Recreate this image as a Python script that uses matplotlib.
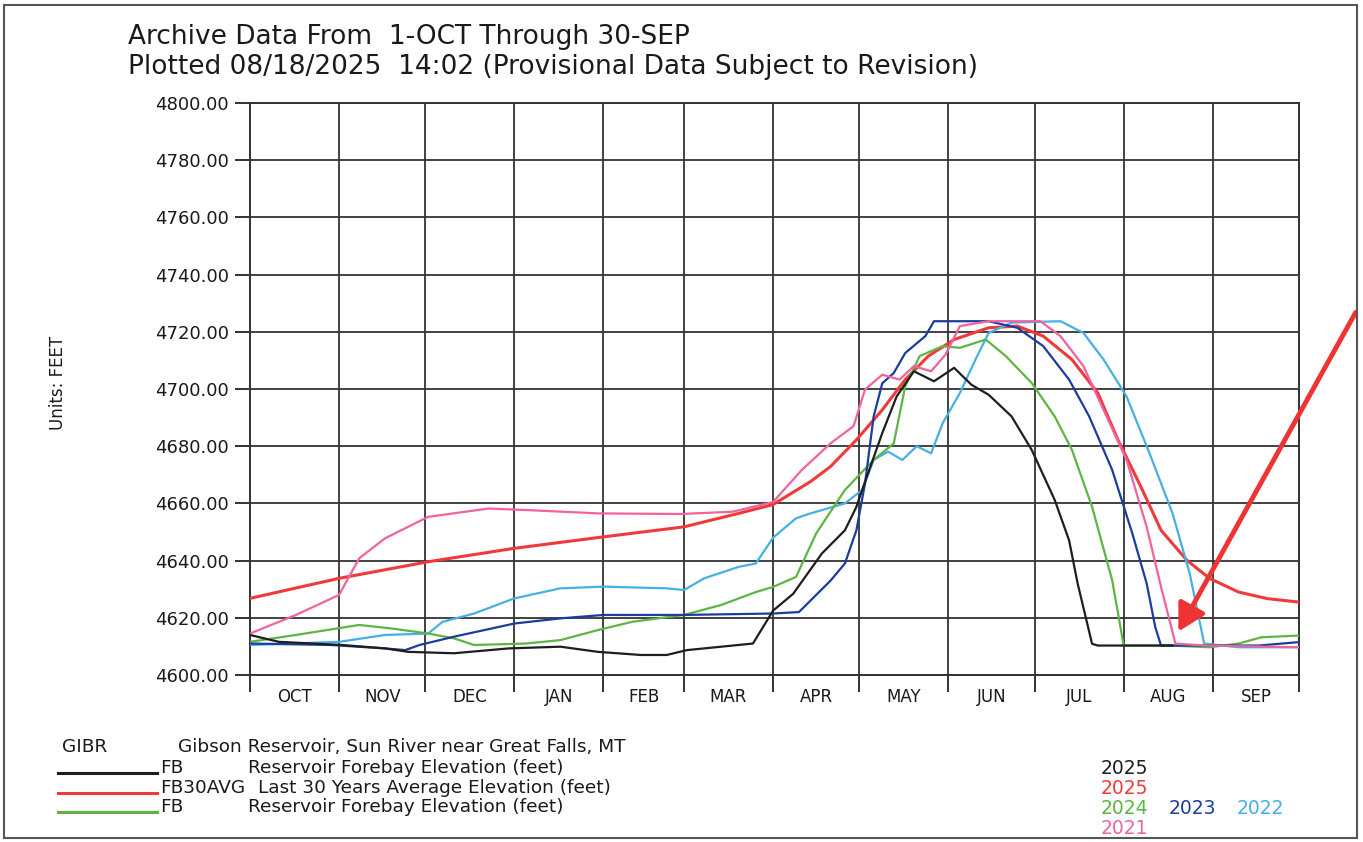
import matplotlib
matplotlib.use("Agg")
import matplotlib.pyplot as plt
from matplotlib.patches import Rectangle, FancyArrowPatch
import numpy as np

# ---- data: day of water year (0 = 1-Oct) and elevation (feet) ----
month_labels = ["OCT", "NOV", "DEC", "JAN", "FEB", "MAR", "APR", "MAY", "JUN", "JUL", "AUG", "SEP"]
month_starts = [0, 31, 61, 92, 123, 151, 182, 212, 243, 273, 304, 335, 365]
y_ticks = [4600, 4620, 4640, 4660, 4680, 4700, 4720, 4740, 4760, 4780, 4800]

black_2025_day = [0, 10, 32, 47, 55, 71, 90, 108, 121, 136, 145, 152, 175, 182, 189, 199, 207, 211,
                  213, 220, 225, 231, 238, 245, 251, 257, 265, 272, 280, 285, 288, 293, 295, 308, 321]
black_2025_val = [4614.0, 4611.6, 4610.5, 4609.3, 4608.1, 4607.6, 4609.3, 4609.9, 4608.1, 4607.0, 4607.0,
                  4608.7, 4611.0, 4622.5, 4628.4, 4642.5, 4650.6, 4658.8, 4664.7, 4684.6, 4697.4, 4706.2,
                  4702.7, 4707.4, 4701.5, 4698.0, 4690.4, 4678.7, 4661.2, 4647.1, 4631.9, 4610.9, 4610.3,
                  4610.3, 4610.3]

avg30_day = [0, 31, 62, 92, 123, 151, 170, 182, 195, 202, 211, 220, 228, 236, 245, 257, 267, 276, 286,
             295, 302, 310, 317, 326, 334, 344, 354, 365]
avg30_val = [4626.8, 4633.8, 4639.6, 4644.3, 4648.3, 4651.8, 4656.5, 4659.6, 4667.6, 4672.9, 4682.2,
             4692.7, 4703.3, 4711.5, 4717.3, 4721.4, 4722.0, 4718.5, 4710.3, 4698.6, 4682.2, 4665.8,
             4650.6, 4640.1, 4633.7, 4629.0, 4626.7, 4625.5]

green_2024_day = [0, 16, 38, 49, 62, 71, 78, 96, 108, 121, 133, 151, 164, 176, 182, 190, 197, 207, 217,
                  224, 228, 233, 241, 247, 256, 263, 272, 280, 286, 293, 300, 304, 320, 334, 344, 352, 365]
green_2024_val = [4611.6, 4614.0, 4617.5, 4616.3, 4614.5, 4612.8, 4610.5, 4611.0, 4612.2, 4615.7, 4618.6,
                  4621.0, 4624.5, 4629.0, 4630.8, 4634.3, 4649.5, 4664.7, 4675.2, 4681.0, 4701.0, 4711.5,
                  4715.0, 4714.4, 4717.3, 4711.5, 4702.1, 4690.4, 4678.7, 4658.8, 4633.1, 4610.3, 4610.3,
                  4609.7, 4611.0, 4613.2, 4613.8]

blue_2023_day = [0, 28, 47, 54, 59, 71, 92, 108, 123, 151, 182, 191, 195, 202, 207, 211, 214, 217, 220,
                 224, 228, 235, 238, 257, 267, 276, 285, 292, 300, 307, 312, 315, 317, 351, 365]
blue_2023_val = [4611.0, 4610.5, 4609.3, 4608.7, 4610.5, 4613.4, 4618.0, 4619.8, 4621.0, 4621.0, 4621.5,
                 4622.0, 4626.0, 4633.0, 4639.0, 4650.6, 4667.0, 4690.4, 4702.0, 4705.6, 4712.6, 4718.5,
                 4723.7, 4723.7, 4721.4, 4715.0, 4703.3, 4690.4, 4671.7, 4649.5, 4632.0, 4616.7, 4610.3,
                 4610.3, 4611.5]

lblue_2022_day = [0, 31, 47, 62, 67, 78, 92, 108, 123, 145, 151, 158, 170, 176, 182, 190, 195, 207, 213,
                  217, 222, 227, 232, 237, 241, 247, 253, 257, 265, 282, 290, 297, 305, 313, 321, 327, 332,
                  344, 365]
lblue_2022_val = [4610.5, 4611.6, 4614.0, 4614.5, 4618.6, 4621.5, 4626.8, 4630.3, 4630.9, 4630.3, 4629.7,
                  4633.8, 4637.8, 4639.0, 4648.0, 4654.8, 4656.5, 4660.0, 4664.7, 4675.2, 4678.1, 4675.2,
                  4680.0, 4677.5, 4688.0, 4698.6, 4711.5, 4719.6, 4723.2, 4723.7, 4719.6, 4710.3, 4697.4,
                  4677.5, 4656.5, 4635.4, 4611.0, 4609.7, 4609.7]

pink_2021_day = [0, 16, 31, 38, 47, 62, 83, 96, 121, 150, 168, 182, 192, 202, 210, 214, 220, 226, 231,
                 237, 242, 247, 257, 275, 282, 290, 297, 305, 312, 317, 322, 332, 365]
pink_2021_val = [4614.5, 4621.0, 4628.0, 4640.8, 4647.8, 4655.3, 4658.2, 4657.7, 4656.5, 4656.3, 4657.1,
                 4660.5, 4671.7, 4681.0, 4687.0, 4699.8, 4705.0, 4703.3, 4708.0, 4706.2, 4712.0, 4722.0,
                 4723.7, 4723.7, 4718.5, 4708.0, 4692.7, 4675.2, 4651.8, 4630.8, 4611.0, 4610.3, 4609.7]

C_BLACK = "#1e1e1e"
C_RED = "#f03a3a"
C_GREEN = "#5db542"
C_BLUE = "#1c3c9e"
C_LBLUE = "#45b0e4"
C_PINK = "#f2629e"
C_TXT = "#1a1a1a"

W, H = 1363, 842
fig = plt.figure(figsize=(W / 100, H / 100), dpi=100)
plt.rcParams['font.family'] = ['DejaVu Sans']

ax = fig.add_axes([250 / W, 1 - 675 / H, (1299 - 250) / W, (675 - 103) / H])
ax.set_xlim(0, 365)
ax.set_ylim(4600, 4800)

lw = 1.6
ax.plot(avg30_day, avg30_val, color=C_RED, lw=2.2, zorder=3)
ax.plot(lblue_2022_day, lblue_2022_val, color=C_LBLUE, lw=lw, zorder=3)
ax.plot(green_2024_day, green_2024_val, color=C_GREEN, lw=lw, zorder=3)
ax.plot(blue_2023_day, blue_2023_val, color=C_BLUE, lw=lw, zorder=3)
ax.plot(pink_2021_day, pink_2021_val, color=C_PINK, lw=lw, zorder=4)
ax.plot(black_2025_day, black_2025_val, color=C_BLACK, lw=lw, zorder=5)

# grid and ticks
ax.set_xticks(month_starts)
ax.set_xticklabels([])
mids = [(month_starts[i] + month_starts[i + 1]) / 2 for i in range(12)]
ax.set_xticks(mids, minor=True)
ax.set_xticklabels(month_labels, minor=True, fontsize=12, color=C_TXT)
ax.tick_params(axis='x', which='minor', length=0, pad=9)
ax.tick_params(axis='x', which='major', length=12, width=1.4, color="#333333", direction='out')
ax.set_yticks(y_ticks)
ax.set_yticklabels([f"{v:.2f}" for v in y_ticks], fontsize=13, color=C_TXT)
ax.tick_params(axis='y', length=11, width=1.4, color="#333333", direction='out', pad=4)
ax.grid(True, which='major', color="#333333", lw=1.3)
for s in ax.spines.values():
    s.set_color("#333333")
    s.set_linewidth(1.4)

fig.text(58 / W, 1 - 383 / H, "Units: FEET", fontsize=12, rotation=90, va='center', ha='center',
         color=C_TXT)

# titles
fig.text(128 / W, 1 - 37 / H, "Archive Data From  1-OCT Through 30-SEP", fontsize=19,
         va='center', ha='left', color=C_TXT)
fig.text(128 / W, 1 - 67 / H, "Plotted 08/18/2025  14:02 (Provisional Data Subject to Revision)",
         fontsize=19, va='center', ha='left', color=C_TXT)

# legend block
fs_leg = 13.3
fig.text(62 / W, 1 - 747 / H, "GIBR", fontsize=fs_leg, va='center', color=C_TXT)
fig.text(178 / W, 1 - 747 / H, "Gibson Reservoir, Sun River near Great Falls, MT", fontsize=fs_leg,
         va='center', color=C_TXT)
leg_rows = [(768, C_BLACK, "FB", "Reservoir Forebay Elevation (feet)", 248),
            (788, C_RED, "FB30AVG", "Last 30 Years Average Elevation (feet)", 258),
            (807, C_GREEN, "FB", "Reservoir Forebay Elevation (feet)", 248)]
for yy, col, code, desc, dx in leg_rows:
    fig.add_artist(plt.Line2D([58 / W, 157 / W], [1 - (yy + 5) / H, 1 - (yy + 5) / H],
                              color=col, lw=2.2, transform=fig.transFigure))
    fig.text(160 / W, 1 - yy / H, code, fontsize=fs_leg, va='center', color=C_TXT)
    fig.text(dx / W, 1 - yy / H, desc, fontsize=fs_leg, va='center', color=C_TXT)

# year labels
years = [(1101, 768, "2025", C_BLACK), (1101, 788, "2025", C_RED), (1101, 808, "2024", C_GREEN),
         (1169, 808, "2023", C_BLUE), (1237, 808, "2022", C_LBLUE), (1101, 828, "2021", C_PINK)]
for xx, yy, t, col in years:
    fig.text(xx / W, 1 - yy / H, t, fontsize=13.5, va='center', ha='left', color=col)

# arrow
arr = FancyArrowPatch((1357 / W, 1 - 310 / H), (1177 / W, 1 - 634 / H),
                      transform=fig.transFigure, arrowstyle='-|>,head_length=9,head_width=5',
                      color="#ee3333", lw=3.5, mutation_scale=1.8)
fig.add_artist(arr)

# frame
fig.add_artist(Rectangle((4 / W, 4 / H), (W - 10) / W, (H - 9) / H, fill=False,
                         edgecolor="#555555", lw=1.5, transform=fig.transFigure))

fig.savefig("out.png", dpi=100)
